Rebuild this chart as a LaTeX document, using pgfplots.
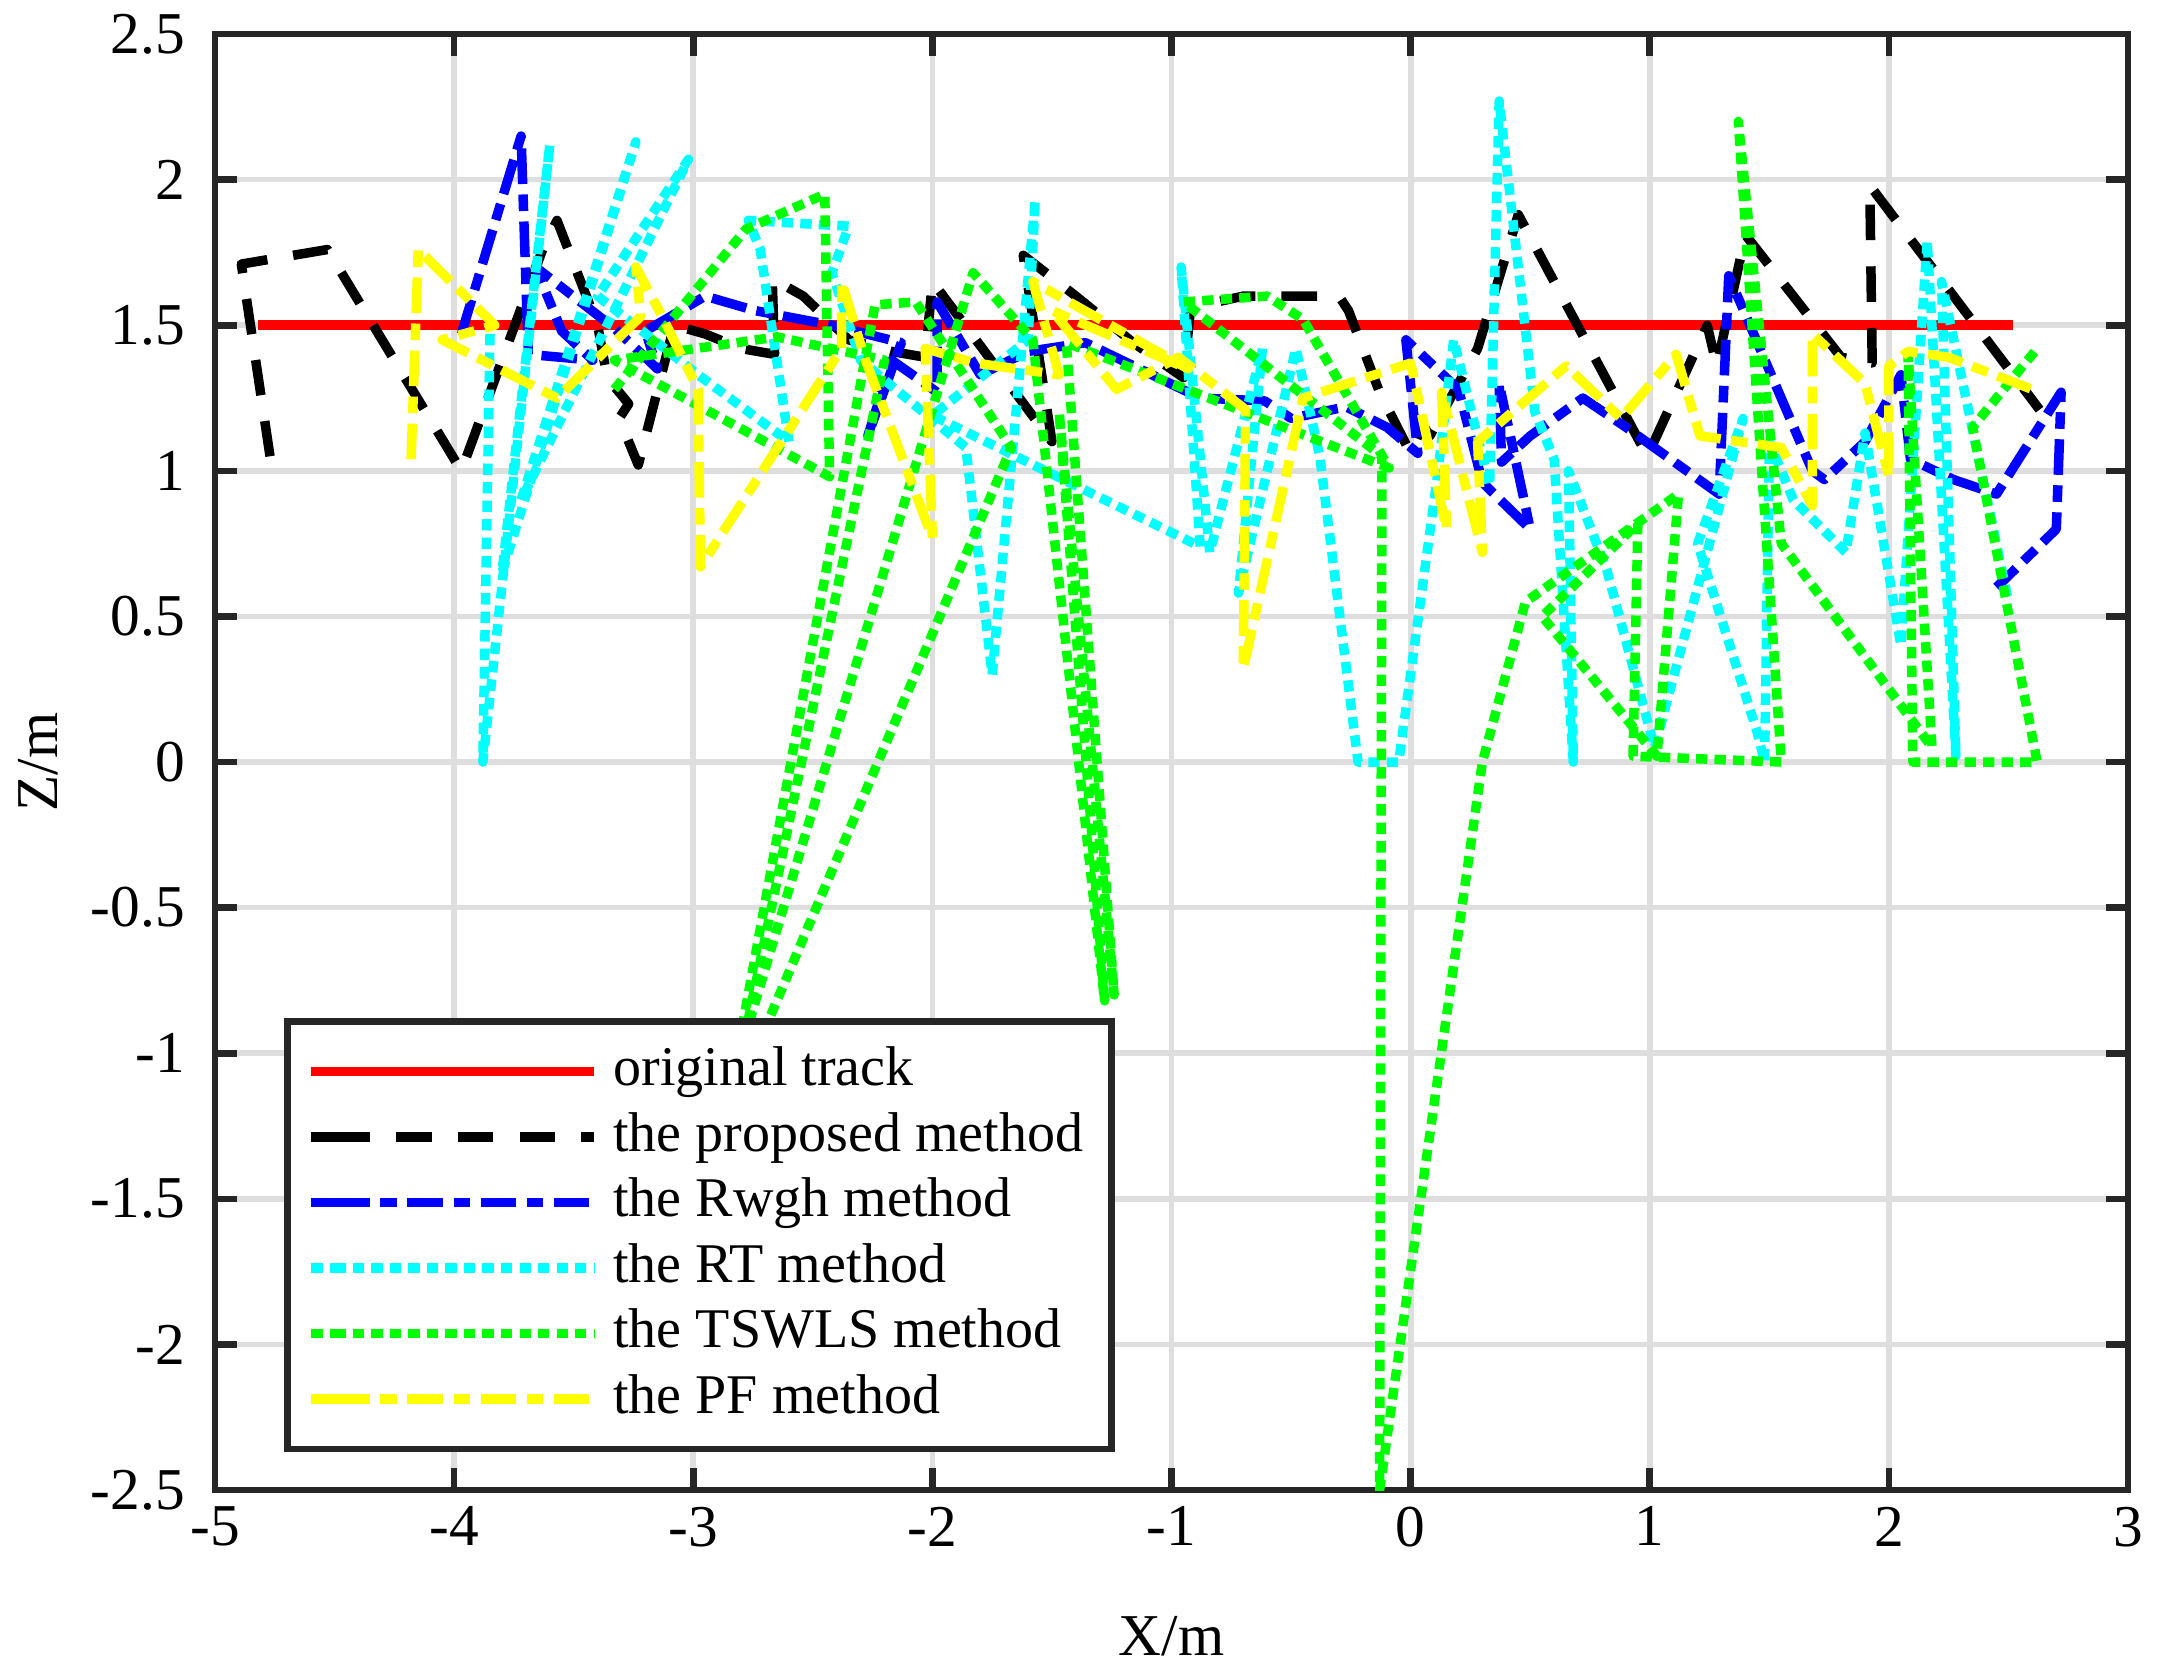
\documentclass[border=0pt]{standalone}
\usepackage{fontspec}
\setmainfont{Liberation Serif}
\usepackage{pgfplots}
\pgfplotsset{compat=1.18}
\definecolor{axc}{RGB}{38,38,38}
\definecolor{gridc}{RGB}{222,222,222}
\definecolor{mred}{RGB}{255,0,0}
\definecolor{mblue}{RGB}{0,0,255}
\definecolor{mcyan}{RGB}{0,255,255}
\definecolor{mgreen}{RGB}{0,255,0}
\definecolor{myellow}{RGB}{255,255,0}
\begin{document}
\begin{tikzpicture}
\useasboundingbox (-1.592cm,-1.348cm) rectangle (14.408cm,11.032cm);
\begin{axis}[
  at={(0,0)}, anchor=south west,
  width=14.164cm, height=10.78cm, scale only axis,
  xmin=-5, xmax=3, ymin=-2.5, ymax=2.5,
  xtick={-5,-4,-3,-2,-1,0,1,2,3},
  ytick={-2.5,-2,-1.5,-1,-0.5,0,0.5,1,1.5,2,2.5},
  grid=major, major grid style={line width=1.2pt, color=gridc},
  axis line style={line width=1.4pt, color=axc},
  tick align=inside, xtick pos=both, ytick pos=both,
  major tick length=0.16cm,
  every tick/.style={line width=1.4pt, color=axc},
  /pgf/number format/assume math mode=true,
  ticklabel style={font=\fontsize{12.5}{15}\selectfont, text=black},
  yticklabel style={xshift=-0.1cm},
  label style={font=\fontsize{12.5}{15}\selectfont},
  xlabel style={yshift=-0.27cm},
  xlabel={X/m}, ylabel={Z/m},
  no markers,
  every axis plot/.append style={line join=round},
  legend cell align=left,
  legend image code/.code={\path (0cm,0cm) -- (0.17cm,0cm); \draw[#1] (0.17cm,0cm) -- (2.095cm,0cm);},
  legend style={at={(axis cs:-4.71,-0.88)}, anchor=north west, draw=axc,
    line width=1.4pt, fill=white, font=\fontsize{11.8}{14}\selectfont,
    inner xsep=4pt, inner ysep=3.6pt, row sep=0pt, column sep=1pt,
    nodes={inner ysep=0.9pt, text height=9pt, text depth=3pt}},
]
\addplot[mred, line width=2pt, solid] coordinates {(-4.82,1.5) (2.52,1.5)};
\addlegendentry{original track}

\addplot[black, line width=2pt, dash pattern=on 7.5pt off 5.5pt] coordinates {
(-4.77,1.05) (-4.89,1.71) (-4.53,1.76) (-3.97,1.00) (-3.63,1.76) (-3.57,1.86)
(-3.40,1.50) (-3.36,1.32) (-3.27,1.23) (-3.31,1.18) (-3.23,1.02) (-3.08,1.50)
(-2.95,1.47) (-2.80,1.42) (-2.66,1.40) (-2.67,1.66) (-2.54,1.60) (-2.35,1.45)
(-2.17,1.41) (-2.03,1.39) (-2.00,1.65) (-1.60,1.21) (-1.50,1.10) (-1.62,1.74)
(-1.40,1.60) (-1.16,1.44) (-0.95,1.32) (-0.92,1.56) (-0.70,1.60) (-0.30,1.60)
(-0.26,1.55) (-0.13,1.27) (0.00,1.06) (0.05,1.16) (0.08,1.12) (0.28,1.42)
(0.45,1.88) (0.99,1.05) (1.24,1.50) (1.28,1.36) (1.40,1.81) (1.80,1.39)
(1.93,1.37) (1.92,1.98) (2.63,1.21)};
\addlegendentry{the proposed method}

\addplot[mblue, line width=2pt, dash pattern=on 7.5pt off 2.2pt on 3.5pt off 2.2pt] coordinates {
(-3.97,1.47) (-3.72,2.15) (-3.69,1.40) (-3.42,1.38) (-3.55,1.48) (-3.66,1.70)
(-3.33,1.49) (-3.15,1.35) (-3.20,1.48) (-2.95,1.60) (-2.74,1.55) (-2.42,1.50)
(-2.13,1.44) (-2.27,1.12) (-2.17,1.38) (-1.98,1.27) (-1.98,1.58) (-1.80,1.33)
(-1.60,1.41) (-1.36,1.44) (-0.88,1.25) (-0.61,1.24) (-0.50,1.18) (-0.27,1.22)
(-0.10,1.15) (0.03,1.06) (-0.02,1.45) (0.20,1.28) (0.30,0.96) (0.50,0.80)
(0.37,1.30) (0.38,1.03) (0.50,1.12) (0.72,1.25) (0.90,1.15) (1.29,0.92)
(1.33,1.67) (1.68,1.00) (1.73,0.97) (1.90,1.10) (2.05,1.33) (2.09,1.04)
(2.27,0.97) (2.45,0.92) (2.72,1.27) (2.70,0.80) (2.45,0.60)};
\addlegendentry{the Rwgh method}

\addplot[mcyan, line width=2pt, dash pattern=on 2.4pt off 1.5pt] coordinates {
(-3.85,1.47) (-3.88,0.00) (-3.60,2.12) (-3.80,0.65) (-3.24,2.13) (-3.72,0.90)
(-3.02,2.07) (-3.40,1.60) (-2.98,1.33) (-2.60,1.10) (-2.72,1.76) (-2.77,1.86)
(-2.35,1.84) (-2.42,1.68) (-2.30,1.38) (-1.86,1.08) (-1.75,0.30) (-1.57,1.93)
(-1.60,1.45) (-2.00,1.19) (-0.88,0.74) (-0.96,1.70) (-0.84,0.72) (-0.62,1.42)
(-0.72,0.58) (-0.48,1.42) (-0.38,1.05) (-0.22,0.00) (-0.05,0.00) (0.11,0.97)
(0.18,1.45) (0.33,0.95) (0.37,2.27) (0.52,1.20) (0.60,1.04) (0.68,0.00)
(0.66,1.00) (0.82,0.66) (1.02,0.05) (1.39,1.18) (1.20,0.75) (1.45,0.10)
(1.48,0.00) (1.50,1.10) (1.60,0.90) (1.82,0.72) (1.90,1.13) (2.05,0.40)
(2.16,1.79) (2.28,0.02) (2.22,1.65) (2.50,0.55)};
\addlegendentry{the RT method}

\addplot[mgreen, line width=2pt, dash pattern=on 2.4pt off 1.5pt] coordinates {
(-3.33,1.28) (-2.78,1.83) (-2.45,1.95) (-2.43,0.98) (-3.33,1.38) (-2.65,1.46)
(-2.20,1.38) (-2.95,-1.60) (-2.24,1.57) (-2.07,1.58) (-1.67,1.08) (-2.95,-1.40)
(-1.83,1.68) (-1.58,1.45) (-1.28,-0.82) (-1.47,1.20) (-1.24,-0.80) (-1.44,1.44)
(-0.09,1.01) (-0.45,1.52) (-0.60,1.60) (-0.95,1.58) (-0.12,1.05) (-0.13,-2.50)
(0.30,0.00) (0.48,0.55) (1.12,0.92) (1.03,0.02) (0.55,0.50) (0.95,0.82)
(0.93,0.02) (1.55,0.00) (1.37,2.20) (1.47,1.40) (1.55,0.75) (2.18,0.05)
(2.08,1.40) (2.10,0.00) (2.62,0.00) (2.35,1.15) (2.62,1.42)};
\addlegendentry{the TSWLS method}

\addplot[myellow, line width=2pt, dash pattern=on 7.5pt off 2.2pt on 3.5pt off 2.2pt] coordinates {
(-4.18,1.04) (-4.15,1.76) (-3.83,1.50) (-4.05,1.45) (-3.57,1.25) (-3.22,1.53)
(-3.24,1.70) (-3.13,1.53) (-2.98,1.28) (-2.97,0.67) (-2.38,1.42) (-2.38,1.65)
(-2.28,1.38) (-2.00,0.77) (-2.03,1.42) (-1.82,1.37) (-1.47,1.33) (-1.58,1.65)
(-0.93,1.35) (-1.50,1.55) (-1.23,1.28) (-0.97,1.39) (-0.69,1.21) (-0.70,0.32)
(-0.45,1.25) (0.00,1.37) (0.15,0.80) (0.13,1.27) (0.30,0.72) (0.28,1.10)
(0.65,1.36) (0.88,1.18) (1.11,1.40) (1.21,1.12) (1.55,1.08) (1.68,0.88)
(1.68,1.47) (1.90,1.30) (2.00,0.98) (2.00,1.36) (2.08,1.41) (2.25,1.39)
(2.63,1.27)};
\addlegendentry{the PF method}
\end{axis}
\end{tikzpicture}
\end{document}
